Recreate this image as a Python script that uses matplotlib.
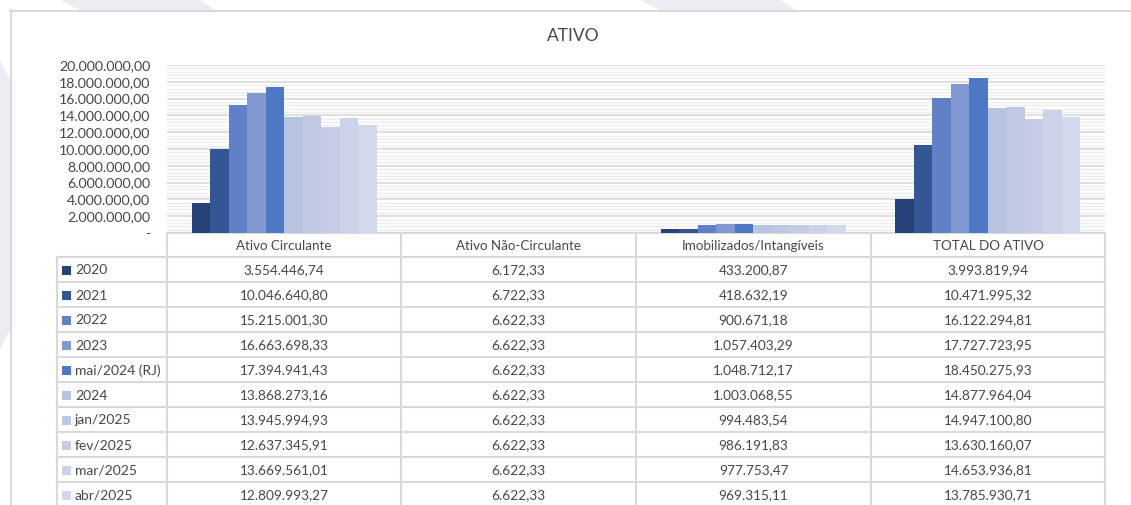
import matplotlib
matplotlib.use("Agg")
import matplotlib.pyplot as plt
import numpy as np
from matplotlib.patches import Polygon, Rectangle
from matplotlib.ticker import MultipleLocator, FuncFormatter

plt.rcParams['font.family'] = ['Lato', 'DejaVu Sans']

# ---------------- data ----------------
categories = ["Ativo Circulante", "Ativo Não-Circulante", "Imobilizados/Intangíveis", "TOTAL DO ATIVO"]
series_names = ["2020", "2021", "2022", "2023", "mai/2024 (RJ)", "2024",
                "jan/2025", "fev/2025", "mar/2025", "abr/2025"]
ativo_circulante = [3554446.74, 10046640.80, 15215001.30, 16663698.33, 17394941.43,
                    13868273.16, 13945994.93, 12637345.91, 13669561.01, 12809993.27]
ativo_nao_circulante = [6172.33, 6722.33, 6622.33, 6622.33, 6622.33,
                        6622.33, 6622.33, 6622.33, 6622.33, 6622.33]
imobilizados = [433200.87, 418632.19, 900671.18, 1057403.29, 1048712.17,
                1003068.55, 994483.54, 986191.83, 977753.47, 969315.11]
total_ativo = [3993819.94, 10471995.32, 16122294.81, 17727723.95, 18450275.93,
               14877964.04, 14947100.80, 13630160.07, 14653936.81, 13785930.71]
colors = ["#274278", "#335794", "#6081C7", "#8199D0", "#4E78C6",
          "#B7C3E1", "#BEC8E3", "#C5CDE6", "#CBD2E9", "#D3D9EC"]

values = [ativo_circulante, ativo_nao_circulante, imobilizados, total_ativo]  # per category

W, H = 1131, 505
fig = plt.figure(figsize=(W / 100, H / 100), dpi=100)
txt_c = "#474747"


def br(v, dec=2):
    s = f"{v:,.{dec}f}"
    return s.replace(",", "X").replace(".", ",").replace("X", ".")


# ---------------- overlay (background, borders, table) ----------------
ov = fig.add_axes([0, 0, 1, 1], zorder=0)
ov.set_xlim(0, W)
ov.set_ylim(H, 0)
ov.axis("off")

wm = "#ECECF3"
for pts in ([(60, 0), (200, 0), (215, 10), (80, 10)],
            [(640, 0), (780, 0), (795, 10), (660, 10)],
            [(0, 60), (10, 80), (10, 330), (0, 350)]):
    ov.add_patch(Polygon(pts, closed=True, facecolor=wm, edgecolor="none"))

border = "#D9D9D9"
ov.plot([10, W], [10.5, 10.5], color=border, lw=1.5)
ov.plot([10.5, 10.5], [10, H], color=border, lw=1.5)

ov.text(573, 36, "ATIVO", ha="center", va="center", fontsize=12.5, color=txt_c)

# table geometry
col_edges = [167, 401, 636, 871, 1105]
leg_left = 57
row_top = 233
header_h = 24
row_h = 25
grid_c = "#D9D9D9"

hdr_bottom = row_top + header_h
n_rows = len(series_names)
ov.plot([col_edges[0], col_edges[-1]], [row_top, row_top], color=grid_c, lw=1.5)
for i in range(n_rows + 1):
    y = hdr_bottom + i * row_h
    ov.plot([leg_left, col_edges[-1]], [y, y], color=grid_c, lw=1.5)
for xe in col_edges:
    ov.plot([xe, xe], [row_top, H], color=grid_c, lw=1.5)
ov.plot([leg_left, leg_left], [hdr_bottom, H], color=grid_c, lw=1.5)

for j, cat in enumerate(categories):
    cx = (col_edges[j] + col_edges[j + 1]) / 2
    ov.text(cx, row_top + header_h / 2 + 1, cat, ha="center", va="center",
            fontsize=9.6, color=txt_c)

for i, name in enumerate(series_names):
    yc = hdr_bottom + i * row_h + row_h / 2 + 1
    ov.add_patch(Rectangle((62, yc - 4.5), 9, 9, facecolor=colors[i], edgecolor="none"))
    ov.text(75, yc, name, ha="left", va="center", fontsize=10, color=txt_c)
    for j in range(len(categories)):
        cx = (col_edges[j] + col_edges[j + 1]) / 2
        ov.text(cx, yc, br(values[j][i]), ha="center", va="center",
                fontsize=9.8, color=txt_c)

# ---------------- bar chart ----------------
left, right = 167 / W, 1105 / W
bottom, top = 1 - 233 / H, 1 - 65 / H
ax = fig.add_axes([left, bottom, right - left, top - bottom], zorder=1)
ax.patch.set_alpha(0)

n_ser = len(series_names)
x = np.arange(len(categories))
group_w = 0.79
bw = group_w / n_ser
for i in range(n_ser):
    vals = [values[j][i] for j in range(len(categories))]
    ax.bar(x - group_w / 2 + bw * (i + 0.5), vals, width=bw, color=colors[i],
           edgecolor="none", zorder=3)

ax.set_xlim(-0.5, len(categories) - 0.5)
ax.set_ylim(0, 20000000)
ax.yaxis.set_major_locator(MultipleLocator(2000000))
ax.yaxis.set_minor_locator(MultipleLocator(400000))
ax.yaxis.set_major_formatter(FuncFormatter(lambda v, p: "-" if v == 0 else br(v)))
ax.grid(which="major", axis="y", color="#D9D9D9", lw=1.2, zorder=0)
ax.grid(which="minor", axis="y", color="#EDEDED", lw=1.0, zorder=0)
ax.set_xticks([])
ax.tick_params(axis="y", which="both", length=0, labelsize=10.2, labelcolor=txt_c, pad=12)
for s in ax.spines.values():
    s.set_visible(False)

fig.savefig("out.png", dpi=100)
